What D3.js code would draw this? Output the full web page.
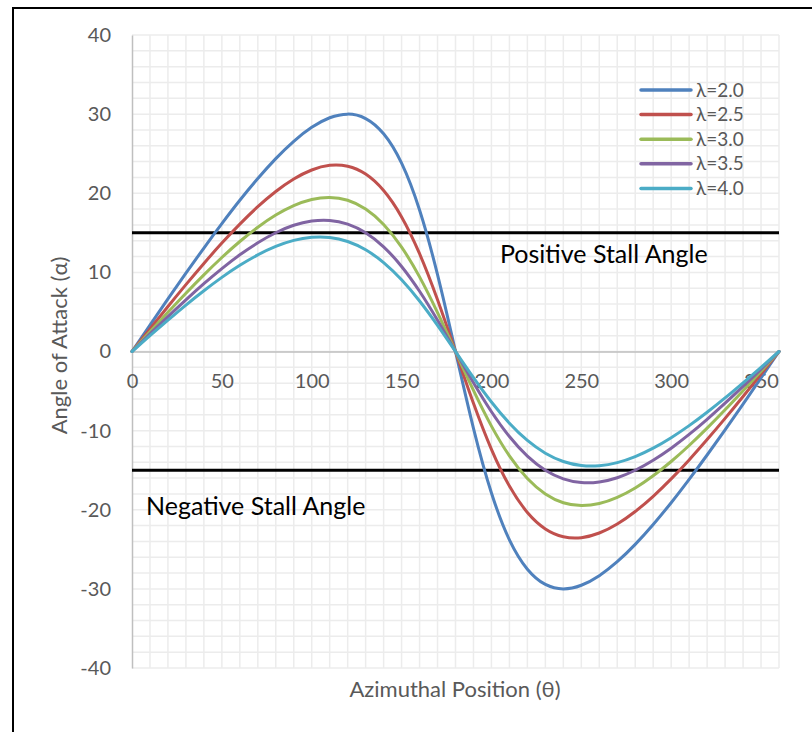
<!DOCTYPE html>
<html>
<head>
<meta charset="utf-8">
<script src="https://cdn.jsdelivr.net/npm/d3@7"></script>
<style>
  body { margin: 0; background: #fff; }
  svg { display: block; }
</style>
</head>
<body>
<svg id="chart" width="812" height="732"></svg>
<script>
// azimuthal position, degrees
const theta = [0, 10, 20, 30, 40, 50, 60, 70, 80, 90, 100, 110, 120, 130, 140, 150, 160, 170, 180,
  190, 200, 210, 220, 230, 240, 250, 260, 270, 280, 290, 300, 310, 320, 330, 340, 350, 360];

// angle of attack, degrees
const alpha20 = [0, 3.33, 6.64, 9.90, 13.08, 16.16, 19.11, 21.86, 24.38, 26.57, 28.33, 29.54, 30.00, 29.44, 27.51, 23.80, 17.88, 9.71, 0,
  -9.71, -17.88, -23.80, -27.51, -29.44, -30.00, -29.54, -28.33, -26.57, -24.38, -21.86, -19.11, -16.16, -13.08, -9.90, -6.64, -3.33, 0];
const alpha25 = [0, 2.85, 5.68, 8.45, 11.13, 13.70, 16.10, 18.30, 20.22, 21.80, 22.94, 23.53, 23.41, 22.42, 20.34, 17.01, 12.36, 6.54, 0,
  -6.54, -12.36, -17.01, -20.34, -22.42, -23.41, -23.53, -22.94, -21.80, -20.22, -18.30, -16.10, -13.70, -11.13, -8.45, -5.68, -2.85, 0];
const alpha30 = [0, 2.50, 4.96, 7.37, 9.69, 11.88, 13.90, 15.70, 17.24, 18.43, 19.21, 19.47, 19.11, 18.00, 16.05, 13.19, 9.43, 4.92, 0,
  -4.92, -9.43, -13.19, -16.05, -18.00, -19.11, -19.47, -19.21, -18.43, -17.24, -15.70, -13.90, -11.88, -9.69, -7.37, -4.96, -2.50, 0];
const alpha35 = [0, 2.22, 4.41, 6.53, 8.57, 10.48, 12.22, 13.74, 15.01, 15.95, 16.49, 16.57, 16.10, 15.01, 13.23, 10.75, 7.61, 3.95, 0,
  -3.95, -7.61, -10.75, -13.23, -15.01, -16.10, -16.57, -16.49, -15.95, -15.01, -13.74, -12.22, -10.48, -8.57, -6.53, -4.41, -2.22, 0];
const alpha40 = [0, 2.00, 3.96, 5.87, 7.68, 9.37, 10.89, 12.21, 13.28, 14.04, 14.43, 14.41, 13.90, 12.85, 11.24, 9.06, 6.38, 3.30, 0,
  -3.30, -6.38, -9.06, -11.24, -12.85, -13.90, -14.41, -14.43, -14.04, -13.28, -12.21, -10.89, -9.37, -7.68, -5.87, -3.96, -2.00, 0];

const seriesNames = ["λ=2.0", "λ=2.5", "λ=3.0", "λ=3.5", "λ=4.0"];
const seriesValues = [alpha20, alpha25, alpha30, alpha35, alpha40];
const seriesColors = ["#4f81bd", "#c0504d", "#9bbb59", "#8064a2", "#4bacc6"];

const xTicks = [0, 50, 100, 150, 200, 250, 300, 350];
const yTicks = [-40, -30, -20, -10, 0, 10, 20, 30, 40];
const stallAngles = [15, -15];
const stallLabels = ["Positive Stall Angle", "Negative Stall Angle"];

const svg = d3.select("#chart");
const font = "Lato, 'Open Sans', sans-serif";

// outer frame (left and top edges visible)
svg.append("line").attr("x1", 13).attr("x2", 13).attr("y1", 7).attr("y2", 732)
  .attr("stroke", "#000").attr("stroke-width", 2);
svg.append("line").attr("x1", 12).attr("x2", 812).attr("y1", 8).attr("y2", 8)
  .attr("stroke", "#000").attr("stroke-width", 2);

const x = d3.scaleLinear().domain([0, 360]).range([132, 779]);
const y = d3.scaleLinear().domain([-40, 40]).range([668, 35]);

// grid
const grid = svg.append("g");
grid.selectAll(".vg").data(d3.range(10, 361, 10)).enter().append("line")
  .attr("x1", d => x(d)).attr("x2", d => x(d))
  .attr("y1", y(40)).attr("y2", y(-40))
  .attr("stroke", "#ececec").attr("stroke-width", 1.5);
grid.selectAll(".hg").data(d3.range(-40, 41, 2)).enter().append("line")
  .attr("x1", x(0)).attr("x2", x(360))
  .attr("y1", d => y(d)).attr("y2", d => y(d))
  .attr("stroke", "#ececec").attr("stroke-width", 1.5);

// y axis
const yAxis = svg.append("g")
  .attr("transform", `translate(${x(0)},0)`)
  .call(d3.axisLeft(y).tickValues(yTicks).tickSize(0).tickPadding(21).tickFormat(d => String(d)));
yAxis.select(".domain").attr("stroke", "#bfbfbf").attr("stroke-width", 1.5);
yAxis.selectAll("text").attr("fill", "#595959").style("font-family", font).style("font-size", "20px");

// x axis at zero, labels below
const xAxis = svg.append("g")
  .attr("transform", `translate(0,${y(0)})`)
  .call(d3.axisBottom(x).tickValues(xTicks).tickSize(0).tickPadding(22).tickFormat(d => String(d)));
xAxis.select(".domain").attr("stroke", "#bfbfbf").attr("stroke-width", 1.5);
xAxis.selectAll("text").attr("fill", "#595959").style("font-family", font).style("font-size", "20px");

// stall lines
svg.selectAll(".stall").data(stallAngles).enter().append("line")
  .attr("x1", x(0)).attr("x2", x(360))
  .attr("y1", d => y(d)).attr("y2", d => y(d))
  .attr("stroke", "#000").attr("stroke-width", 3);

svg.append("text").attr("x", 500).attr("y", 263).text(stallLabels[0])
  .style("font-family", font).style("font-size", "25px").attr("fill", "#000");
svg.append("text").attr("x", 146).attr("y", 515).text(stallLabels[1])
  .style("font-family", font).style("font-size", "25px").attr("fill", "#000");

// curves
const line = d3.line()
  .x((d, i) => x(theta[i]))
  .y(d => y(d))
  .curve(d3.curveNatural);

svg.selectAll(".curve").data(seriesValues).enter().append("path")
  .attr("d", d => line(d))
  .attr("fill", "none")
  .attr("stroke", (d, i) => seriesColors[i])
  .attr("stroke-width", 3)
  .attr("stroke-linecap", "round");

// legend
const legend = svg.selectAll(".legend").data(seriesNames).enter().append("g")
  .attr("transform", (d, i) => `translate(641,${90 + i * 24.6})`);
legend.append("line").attr("x1", 0).attr("x2", 50)
  .attr("stroke", (d, i) => seriesColors[i]).attr("stroke-width", 3.5).attr("stroke-linecap", "round");
legend.append("text").attr("x", 55).attr("dy", "0.35em").text(d => d)
  .style("font-family", font).style("font-size", "19px").attr("fill", "#595959");

// axis titles
svg.append("text")
  .attr("transform", `translate(67,${y(0) - 6}) rotate(-90)`)
  .attr("text-anchor", "middle")
  .text("Angle of Attack (α)")
  .style("font-family", font).style("font-size", "22px").attr("fill", "#595959");
svg.append("text")
  .attr("x", 455).attr("y", 697)
  .attr("text-anchor", "middle")
  .text("Azimuthal Position (θ)")
  .style("font-family", font).style("font-size", "22px").attr("fill", "#595959");
</script>
</body>
</html>
